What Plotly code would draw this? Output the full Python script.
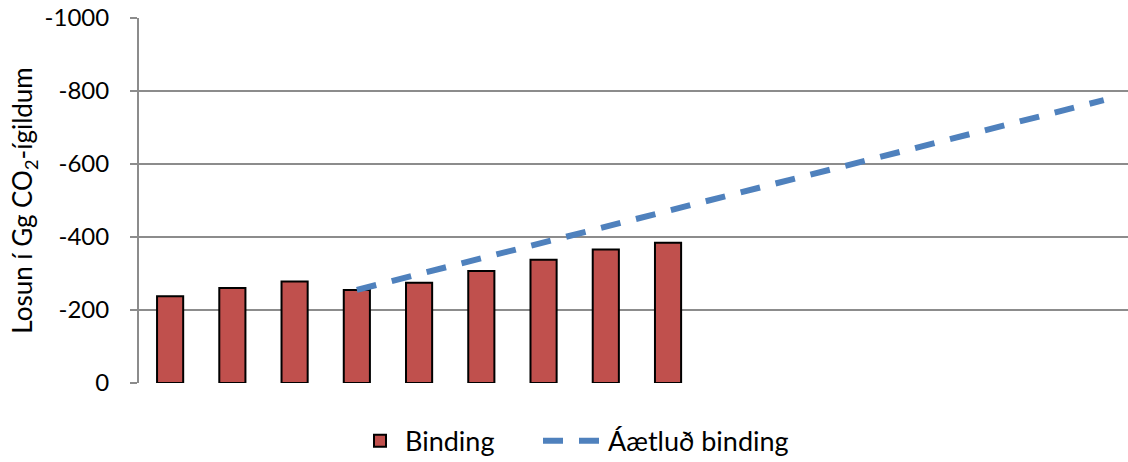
import plotly.graph_objects as go

# Years on the category axis (labels are not shown on the chart)
years = [str(y) for y in range(2005, 2021)]

# Measured sequestration (negative emissions), Gg CO2-equivalents
binding_years = years[:9]
binding_values = [-238, -260, -278, -255, -275, -307, -338, -366, -384]

# Projected sequestration trend: start and end of the straight line
projected_years = [years[3], years[15]]
projected_values = [-255, -775]

y_ticks = [0, -200, -400, -600, -800, -1000]

font_family = "Lato, 'Open Sans', sans-serif"
grid_color = "#8c8c8c"
W, H = 1128, 462

fig = go.Figure()

fig.add_trace(go.Bar(
    x=binding_years,
    y=binding_values,
    name="Binding",
    marker=dict(color="#C0504D", line=dict(color="black", width=2)),
    legend="legend",
))

fig.add_trace(go.Scatter(
    x=projected_years,
    y=projected_values,
    name="Áætluð binding",
    mode="lines",
    line=dict(color="#4F81BD", width=6, dash="20px,16px"),
    legend="legend2",
))

legend_common = dict(
    orientation="h",
    xref="container", yref="container",
    xanchor="left",
    y=0.045, yanchor="middle",
    font=dict(size=27),
    bgcolor="rgba(0,0,0,0)",
)

fig.update_layout(
    width=W,
    height=H,
    margin=dict(l=139, r=0, t=18, b=79),
    paper_bgcolor="white",
    plot_bgcolor="white",
    font=dict(family=font_family, size=24, color="black"),
    bargap=0.58,
    showlegend=True,
    legend=dict(legend_common, x=355 / W, itemwidth=40),
    legend2=dict(legend_common, x=538 / W, itemwidth=60),
    xaxis=dict(
        type="category",
        categoryorder="array",
        categoryarray=years,
        range=[-0.5, 15.39],
        showticklabels=False,
        showgrid=False,
        showline=False,
        zeroline=False,
        ticks="",
    ),
    yaxis=dict(
        range=[0, -1000],
        tickvals=y_ticks,
        ticktext=[str(v) for v in y_ticks],
        showgrid=True,
        gridcolor=grid_color,
        gridwidth=2,
        showline=True,
        linecolor=grid_color,
        linewidth=2,
        zeroline=False,
        ticks="outside",
        ticklen=7,
        tickwidth=2,
        tickcolor=grid_color,
        ticklabelstandoff=16,
        tickfont=dict(size=24),
        title=dict(
            text="Losun í Gg CO<sub>2</sub>-ígildum",
            font=dict(size=26),
            standoff=4,
        ),
    ),
)

fig.write_html("out.html")
